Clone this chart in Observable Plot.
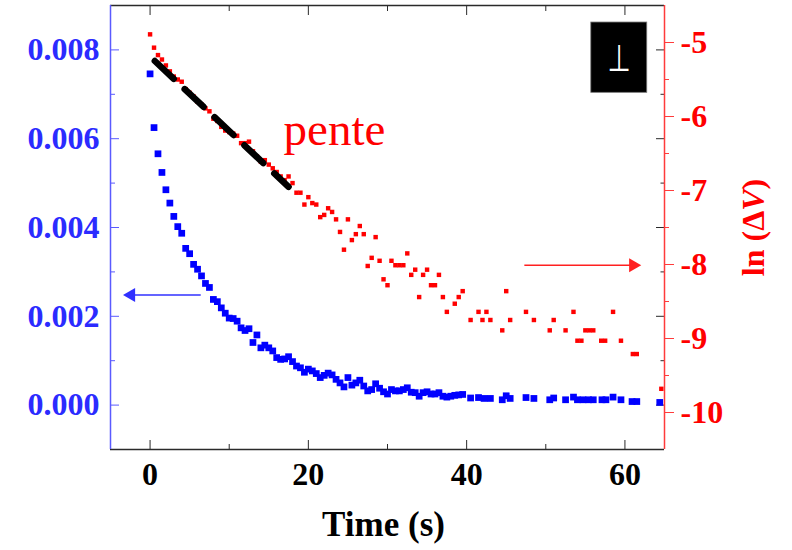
<!DOCTYPE html>
<html><head><meta charset="utf-8">
<script src="https://cdn.jsdelivr.net/npm/d3@7"></script>
<script src="https://cdn.jsdelivr.net/npm/@observablehq/plot@0.6"></script>
<style>
body{margin:0;background:#fff;}
#wrap{position:relative;width:792px;height:550px;overflow:hidden;}
#wrap svg{position:absolute;left:0;top:0;}
#wrap g[aria-label$="tick label"], #wrap g[aria-label$="tick label"] text{font-family:'Liberation Serif','Times New Roman',serif;font-weight:bold;}
</style></head><body><div id="wrap"></div>
<script>
// ---- data ----
const blueTime = [0,0.5,1,1.5,2,2.5,3,3.5,4,4.5,5,5.5,6,6.5,7,7.5,8,8.5,9,9.5,10,10.5,11,11.5,12,12.5,13,13.5,14,14.5,15,15.5,16,16.5,17,17.5,18,18.5,19,19.5,20,20.5,21,21.5,22,22.5,23,23.5,24,24.5,25,25.5,26,26.5,27,27.5,28,28.5,29,29.5,30,30.5,31,31.5,32,32.5,33,33.5,34,34.5,35,35.5,36,36.5,37,37.5,38,38.5,39,39.5,40.5,41.5,42.2,43,44.5,45,45.5,47.5,48.5,50.5,51,52.5,53.5,54,54.7,55.4,56,57.1,57.6,58.5,59.5,60.9,61.5,64.4];
const blueValue = [0.00746,0.00625,0.00566,0.00524,0.00485,0.00455,0.00425,0.00402,0.00387,0.00353,
0.00341,0.00317,0.00306,0.00291,0.00274,0.00265,0.00238,0.00233,0.00219,0.00207,
0.00196,0.00195,0.00189,0.00174,0.00168,0.00172,0.00141,0.00158,0.00129,0.00135,
0.00129,0.00122,0.00107,0.00103,0.00104,0.00109,0.00098,0.00088,0.00084,0.00074,
0.00081,0.00077,0.00071,0.00062,0.00067,0.00072,0.00068,0.00058,0.00050,0.00041,
0.00062,0.00045,0.00050,0.00056,0.00043,0.00032,0.00035,0.00048,0.00038,0.00030,
0.00025,0.00035,0.00032,0.00032,0.00035,0.00039,0.00029,0.00028,0.00020,0.00028,
0.00030,0.00025,0.00025,0.00028,0.00020,0.00018,0.00020,0.00022,0.00023,0.00024,
0.00016,0.00017,0.00015,0.00015,0.00012,0.00021,0.00015,0.00017,0.00015,0.00012,
0.00016,0.00012,0.00018,0.00012,0.00012,0.00012,0.00012,0.00012,0.00012,0.00018,
0.00012,0.00008,0.00008,0.00006];
const redTime = [0,0.5,1,1.5,2,2.5,3,3.5,4,4.5,5,5.5,6,6.5,7,7.5,8,8.5,9,9.5,10,10.5,11,11.5,12,12.5,13,13.5,14,14.5,15,15.5,16,16.5,17,17.5,18,18.5,19,19.5,20,20.5,21,21.5,22,22.5,23,23.5,24,24.5,25,25.5,26,26.5,27,27.5,28,28.5,29,29.5,30,30.5,31,31.5,32,32.5,33,33.5,34,34.5,35,35.5,36,36.5,37,37.5,38.5,39,39.5,40.5,41.5,42,42.5,43,44.5,45,45.5,47.5,48.5,50.5,51,52.5,53.5,54,54.5,55,55.5,56,57,57.5,58.5,59.5,61,61.5,64.6];
const redValue = [-4.89,-5.07,-5.17,-5.23,-5.31,-5.39,-5.46,-5.50,-5.53,-5.63,-5.68,-5.73,-5.80,-5.84,-5.89,-5.93,-6.03,-6.06,-6.14,-6.19,-6.21,-6.23,-6.26,-6.36,-6.36,-6.34,-6.47,-6.54,-6.61,-6.59,-6.65,-6.70,-6.75,-6.81,-6.86,-6.81,-6.90,-7.03,-7.03,-7.19,-7.09,-7.17,-7.19,-7.36,-7.33,-7.24,-7.29,-7.39,-7.56,-7.80,-7.39,-7.67,-7.59,-7.48,-7.59,-8.02,-7.91,-7.63,-7.95,-8.20,-8.28,-7.95,-8.01,-8.01,-8.01,-7.85,-8.14,-8.07,-8.44,-8.14,-8.07,-8.28,-8.28,-8.14,-8.44,-8.64,-8.53,-8.44,-8.36,-8.75,-8.64,-8.75,-8.64,-8.75,-8.89,-8.36,-8.75,-8.64,-8.75,-8.89,-8.75,-8.89,-8.64,-9.03,-9.03,-8.89,-8.89,-8.89,-9.03,-9.03,-8.64,-9.03,-9.21,-9.21,-9.68];

const xDomain = [-5, 65];
const leftDomain = [-0.001, 0.009];
const rightDomain = [-10.5, -4.5];
const xTicksMajor = [0, 20, 40, 60];
const xTicksMinor = [10, 30, 50];
const leftTicksMajor = [0, 0.002, 0.004, 0.006, 0.008];
const leftTicksMinor = [0.001, 0.003, 0.005, 0.007];
const rightTicksMajor = [-5, -6, -7, -8, -9, -10];
const rightTicksMinor = [-5.5, -6.5, -7.5, -8.5, -9.5];

// annotations (data units)
const fitLine = [{t: 0.6, v: -5.25}, {t: 17.5, v: -6.95}];
const penteNote = [{t: 16.87, v: -6.18, label: "pente"}];
const perpBox = [{t1: 55.75, t2: 62.82, v1: -4.73, v2: -5.68}];
const perpNote = [{t: 59.27, v: -5.23, label: "⊥"}];
const blueArrow = [{t1: 6.4, t2: -2.4, v: 0.00248}];
const redArrow = [{t1: 47.29, t2: 61.04, v: -8.01}];
const xTitle = ["Time (s)"];
const rightTitle = ["ln (ΔV)"];

// ---- styling ----
const serif = "'Liberation Serif','Times New Roman',serif";
const BLUE = "#0000ff", BLUE_AXIS = "#5a5aff", BLUE_TEXT = "#2b2bff";
const RED = "#ff0000", RED_AXIS = "#ff3b3b";
const DARK = "#2a2a2a";
const common = {width: 792, height: 550, marginLeft: 110, marginRight: 128, marginTop: 5, marginBottom: 101};

const blueData = blueTime.map((t, i) => ({t, v: blueValue[i]}));
const redData = redTime.map((t, i) => ({t, v: redValue[i]}));

const p1 = Plot.plot({
  ...common,
  style: {background: "transparent"},
  x: {domain: xDomain},
  y: {domain: leftDomain},
  marks: [
    Plot.ruleY([leftDomain[1]], {stroke: DARK, strokeWidth: 1.5}),
    Plot.ruleY([leftDomain[0]], {stroke: DARK, strokeWidth: 1.5}),
    Plot.ruleX([xDomain[0]], {stroke: BLUE_AXIS, strokeWidth: 1.5}),
    // bottom ticks (inward)
    Plot.axisX({anchor: "bottom", ticks: xTicksMajor, tickSize: 9, dy: -9, stroke: DARK, fill: "none", label: null}),
    Plot.axisX({anchor: "bottom", ticks: xTicksMinor, tickSize: 5, dy: -5, stroke: DARK, fill: "none", label: null}),
    // top ticks (inward)
    Plot.axisX({anchor: "top", ticks: xTicksMajor, tickSize: 9, dy: 9, stroke: DARK, fill: "none", label: null}),
    Plot.axisX({anchor: "top", ticks: xTicksMinor, tickSize: 5, dy: 5, stroke: DARK, fill: "none", label: null}),
    // bottom labels
    Plot.axisX({anchor: "bottom", ticks: xTicksMajor, tickSize: 0, tickPadding: 13, tickFormat: d => String(d),
      fill: "#000", fontSize: 32, fontWeight: "bold", fontFamily: serif, label: null}),
    // left ticks (inward) + labels
    Plot.axisY({anchor: "left", ticks: leftTicksMajor, tickSize: 9, dx: 9, stroke: BLUE_AXIS, fill: "none", label: null}),
    Plot.axisY({anchor: "left", ticks: leftTicksMinor, tickSize: 5, dx: 5, stroke: BLUE_AXIS, fill: "none", label: null}),
    Plot.axisY({anchor: "left", ticks: leftTicksMajor, tickSize: 0, tickPadding: 11, tickFormat: d3.format(".3f"),
      fill: BLUE_TEXT, fontSize: 32, fontWeight: "bold", fontFamily: serif, label: null}),
    // right mirrored ticks (inward)
    Plot.axisY({anchor: "right", ticks: leftTicksMajor, tickSize: 9, dx: -9, stroke: DARK, fill: "none", label: null}),
    Plot.axisY({anchor: "right", ticks: leftTicksMinor, tickSize: 4.5, dx: -4.5, stroke: DARK, fill: "none", label: null}),
    // data
    Plot.dot(blueData, {x: "t", y: "v", symbol: "square", r: 3.8, fill: BLUE, clip: true}),
    // blue arrow
    Plot.link(blueArrow, {x1: "t1", x2: "t2", y1: "v", y2: "v", stroke: "#3030ff", strokeWidth: 1.6}),
    Plot.dot(blueArrow, {x: "t2", y: "v", symbol: "triangle", r: 5.2, rotate: -90, fill: "#3030ff"}),
    // x title
    Plot.text(xTitle, {frameAnchor: "bottom", dx: -4, dy: 75, lineAnchor: "middle", textAnchor: "middle", text: d => d,
      fontSize: 35, fontWeight: "bold", fontFamily: serif, fill: "#000"})
  ]
});

const p2 = Plot.plot({
  ...common,
  style: {background: "transparent"},
  x: {domain: xDomain, axis: null},
  y: {domain: rightDomain},
  marks: [
    Plot.dot(redData, {x: "t", y: "v", symbol: "square", r: 2.5, fill: RED, clip: true}),
    Plot.line(fitLine, {x: "t", y: "v", stroke: "#000", strokeWidth: 6.5, strokeDasharray: "26,15"}),
    Plot.text(penteNote, {x: "t", y: "v", text: "label", textAnchor: "start", fontSize: 47, fontFamily: serif, fill: RED}),
    Plot.rect(perpBox, {x1: "t1", x2: "t2", y1: "v1", y2: "v2", fill: "#000", stroke: "#777", strokeWidth: 0.8}),
    Plot.text(perpNote, {x: "t", y: "v", text: "label", fontSize: 37, fontFamily: "'DejaVu Sans',sans-serif", fill: "#fff"}),
    Plot.link(redArrow, {x1: "t1", x2: "t2", y1: "v", y2: "v", stroke: "#ff2020", strokeWidth: 1.6}),
    Plot.dot(redArrow, {x: "t2", y: "v", symbol: "triangle", r: 5.2, rotate: 90, fill: "#ff2020"}),
    Plot.ruleX([xDomain[1]], {stroke: RED_AXIS, strokeWidth: 1.5}),
    Plot.axisY({anchor: "right", ticks: rightTicksMajor, tickSize: 9, stroke: RED_AXIS, fill: "none", label: null}),
    Plot.axisY({anchor: "right", ticks: rightTicksMinor, tickSize: 4, stroke: RED_AXIS, fill: "none", label: null}),
    Plot.axisY({anchor: "right", ticks: rightTicksMajor, tickSize: 0, tickPadding: 16, tickFormat: d => String(d),
      fill: RED, fontSize: 32, fontWeight: "bold", fontFamily: serif, label: null}),
    Plot.text(rightTitle, {frameAnchor: "right", dx: 89, rotate: -90, textAnchor: "middle", lineAnchor: "middle", text: d => d,
      fontSize: 32, fontWeight: "bold", fontFamily: serif, fill: RED})
  ]
});

// italic V in the right title
d3.select(p2).selectAll("text").filter(function () { return this.textContent === "ln (ΔV)"; })
  .each(function () {
    const el = d3.select(this);
    el.text(null);
    el.append("tspan").text("ln (Δ");
    el.append("tspan").attr("font-style", "italic").text("V");
    el.append("tspan").text(")");
  });

const wrap = document.getElementById("wrap");
wrap.appendChild(p1);
wrap.appendChild(p2);

// narrow the ⊥ glyph horizontally around its own centre
d3.select(p2).selectAll("text").filter(function () { return this.textContent === "⊥"; })
  .each(function () {
    const b = this.getBBox();
    const cx = b.x + b.width / 2, cy = b.y + b.height / 2;
    const t = this.getAttribute("transform") || "";
    this.setAttribute("transform", `${t} translate(${cx},${cy}) scale(0.72,1) translate(${-cx},${-cy})`);
  });
</script></body></html>
